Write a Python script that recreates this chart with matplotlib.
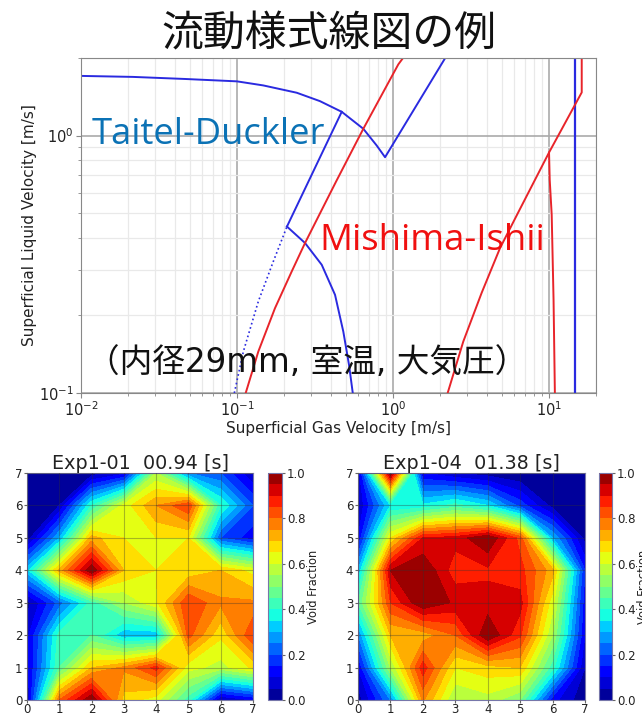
import numpy as np
import matplotlib
matplotlib.use("Agg")
import matplotlib.pyplot as plt

W, H = 642, 713
CJK = ['Noto Sans CJK JP', 'DejaVu Sans']
LATIN_FIRST = ['DejaVu Sans', 'Noto Sans CJK JP']

# --- flow regime map curves (m/s) ---
td_top_x = [0.01, 0.0215, 0.0464, 0.1, 0.1474, 0.2414, 0.340, 0.469, 0.645, 0.786, 0.889, 2.154]
td_top_y = [1.704, 1.689, 1.658, 1.623, 1.565, 1.466, 1.360, 1.236, 1.062, 0.9143, 0.8236, 1.994]
td_branch_x = [0.209, 0.469]
td_branch_y = [0.443, 1.236]
td_low_x = [0.209, 0.2729, 0.3491, 0.4249, 0.4801, 0.5224, 0.552]
td_low_y = [0.443, 0.3824, 0.3148, 0.2406, 0.1732, 0.1285, 0.100]
td_dot_x = [0.0961, 0.1098, 0.1369, 0.1709, 0.209]
td_dot_y = [0.100, 0.1448, 0.2266, 0.3243, 0.443]
td_vert_x = [14.7, 14.7]
td_vert_y = [0.1, 2.1]
mi_a_x = [0.1137, 0.1369, 0.1752, 0.2242, 0.2729, 0.3371, 0.4312, 0.645, 1.081, 1.159]
mi_a_y = [0.100, 0.1448, 0.2136, 0.2965, 0.3824, 0.4928, 0.662, 1.062, 1.889, 2.0]
mi_b_x = [2.24, 2.82, 3.70, 4.853, 6.36, 10.0, 16.2, 16.2]
mi_b_y = [0.100, 0.1584, 0.245, 0.3656, 0.504, 0.859, 1.47, 2.1]
mi_c_x = [10.0, 10.1, 10.4, 10.69, 10.9]
mi_c_y = [0.859, 0.674, 0.4928, 0.230, 0.100]

# --- void fraction fields (rows: y = 0 ... 7, columns: x = 0 ... 7) ---
grid_pos = [0, 1, 2, 3, 4, 5, 6, 7]
exp01 = [
    [0.05, 0.80, 1.00, 0.68, 0.62, 0.42, 0.04, 0.10],
    [0.08, 0.45, 0.70, 0.76, 0.87, 0.62, 0.58, 0.66],
    [0.08, 0.42, 0.45, 0.31, 0.31, 0.82, 0.66, 0.85],
    [0.03, 0.22, 0.42, 0.55, 0.64, 0.85, 0.76, 0.76],
    [0.33, 0.72, 1.00, 0.70, 0.65, 0.66, 0.70, 0.63],
    [0.02, 0.30, 0.72, 0.65, 0.65, 0.65, 0.20, 0.12],
    [0.00, 0.05, 0.40, 0.62, 0.75, 0.85, 0.40, 0.20],
    [0.00, 0.00, 0.02, 0.08, 0.55, 0.25, 0.20, 0.05],
]
exp04 = [
    [0.02, 0.25, 0.76, 0.55, 0.58, 0.50, 0.12, 0.01],
    [0.10, 0.55, 0.88, 0.65, 0.68, 0.70, 0.42, 0.05],
    [0.25, 0.70, 0.72, 0.80, 1.00, 0.86, 0.55, 0.10],
    [0.45, 0.85, 1.00, 0.94, 0.92, 0.92, 0.62, 0.12],
    [0.30, 0.95, 1.00, 0.87, 0.89, 0.87, 0.72, 0.15],
    [0.10, 0.65, 0.90, 0.92, 1.00, 0.83, 0.30, 0.03],
    [0.05, 0.35, 0.36, 0.42, 0.35, 0.18, 0.03, 0.00],
    [0.05, 1.00, 0.10, 0.05, 0.02, 0.00, 0.00, 0.00],
]
levels = np.linspace(0, 1, 21)


def axes_px(fig, x0, y0, x1, y1):
    return fig.add_axes([x0 / W, 1 - y1 / H, (x1 - x0) / W, (y1 - y0) / H])


fig = plt.figure(figsize=(W / 100, H / 100), dpi=100)

# flow regime map
ax = axes_px(fig, 81, 58, 596, 393)
ax.set_xscale('log')
ax.set_yscale('log')
ax.set_xlim(0.01, 20)
ax.set_ylim(0.1, 2.0)
ax.grid(True, which='major', color='#aaaaaa', lw=1.2)
ax.grid(True, which='minor', color='#e9e9e9', lw=0.9)
ax.set_axisbelow(True)
blue = '#2a2ae0'
red = '#e8242a'
ax.plot(td_top_x, td_top_y, color=blue, lw=1.4)
ax.plot(td_branch_x, td_branch_y, color=blue, lw=1.4)
ax.plot(td_low_x, td_low_y, color=blue, lw=1.4)
ax.plot(td_dot_x, td_dot_y, color=blue, lw=1.2, ls=':')
ax.plot(td_vert_x, td_vert_y, color=blue, lw=1.6)
ax.plot(mi_a_x, mi_a_y, color=red, lw=1.4)
ax.plot(mi_b_x, mi_b_y, color=red, lw=1.4)
ax.plot(mi_c_x, mi_c_y, color=red, lw=1.4)
ax.set_xlabel('Superficial Gas Velocity [m/s]', fontsize=11, color='#222222', labelpad=1)
ax.set_ylabel('Superficial Liquid Velocity [m/s]', fontsize=11, color='#222222', labelpad=1)
ax.tick_params(which='major', labelsize=10.5, labelcolor='#222222', length=3.5, pad=2, color='#888888')
ax.tick_params(which='minor', labelleft=False, labelbottom=False, length=2, color='#888888')
for s in ax.spines.values():
    s.set_color('#888888')

# slide text
fig.text(329 / W, 1 - 35 / H, '流動様式線図の例', fontsize=30.2, family=CJK,
         ha='center', va='center', color='#111111')
fig.text(92 / W, 1 - 135 / H, 'Taitel-Duckler', fontsize=26.2, family='Open Sans',
         ha='left', va='center', color='#0b72b5')
fig.text(319 / W, 1 - 241 / H, 'Mishima-Ishii', fontsize=26.3, family='Open Sans',
         ha='left', va='center', color='#f01010')
fig.text(307 / W, 1 - 362 / H, '（内径29mm, 室温, 大気圧）', fontsize=23.5, family=LATIN_FIRST,
         ha='center', va='center', color='#111111')


def field(x0, x1, cx0, cx1, data, title):
    a = axes_px(fig, x0, 473, x1, 700)
    cs = a.contourf(grid_pos, grid_pos, np.array(data), levels=levels, cmap='jet', vmin=0, vmax=1)
    a.grid(True, color='#333333', lw=0.8, alpha=0.35)
    a.set_axisbelow(False)
    a.set_xlim(0, 7)
    a.set_ylim(0, 7)
    a.set_xticks(grid_pos)
    a.set_yticks(grid_pos)
    a.tick_params(labelsize=8.5, length=2, pad=1.5, labelcolor='#222222', color='#666666')
    a.tick_params(axis='x', pad=0.5)
    a.set_title(title, fontsize=13.8, pad=2, color='#222222')
    for s in a.spines.values():
        s.set_color('#7777aa')
    c = axes_px(fig, cx0, 473, cx1, 700)
    cb = fig.colorbar(cs, cax=c, ticks=[0, 0.2, 0.4, 0.6, 0.8, 1.0])
    cb.ax.tick_params(labelsize=8.5, length=2, pad=1.5, labelcolor='#222222', color='#666666')
    cb.set_label('Void Fraction', fontsize=8.3, labelpad=1, color='#222222')
    cb.outline.set_edgecolor('#7777aa')


field(27, 253, 268, 282, exp01, 'Exp1-01  00.94 [s]')
field(358, 585, 599, 612, exp04, 'Exp1-04  01.38 [s]')

fig.savefig('out.png', dpi=100)
